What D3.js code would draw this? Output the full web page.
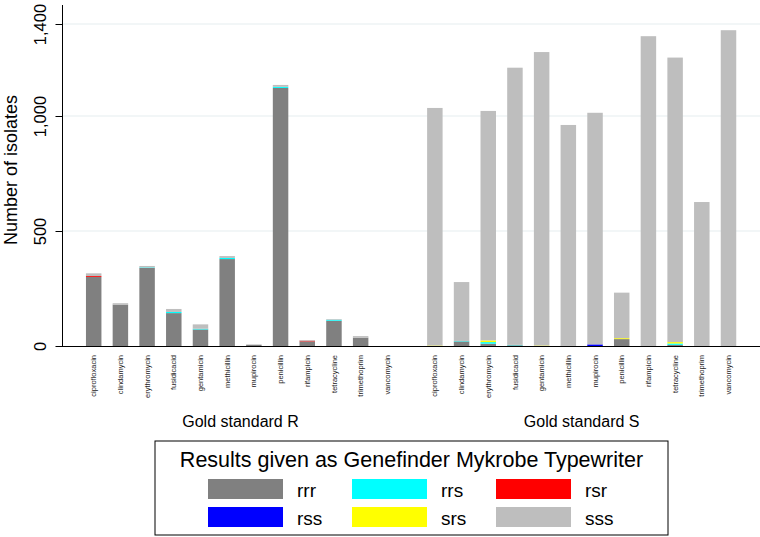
<!DOCTYPE html>
<html><head><meta charset="utf-8">
<script src="https://cdn.jsdelivr.net/npm/d3@7"></script>
<style>body{margin:0;background:#fff}svg{display:block;font-family:"Liberation Sans",Arial,Helvetica,sans-serif}</style>
</head><body><svg id="c" width="760" height="537"></svg>
<script>
const drugs = ["ciprofloxacin","clindamycin","erythromycin","fusidicacid","gentamicin","methicillin","mupirocin","penicillin","rifampicin","tetracycline","trimethoprim","vancomycin"];
const groups = ["Gold standard R","Gold standard S"];
const seriesNames = ["rrr","rrs","rsr","rss","srs","sss"];
const seriesColors = ["#808080","#00ffff","#ff0000","#0000ff","#ffff00","#bebebe"];
const yTicks = [0,500,1000,1400];
// Gold standard R
const rrrR = [300,180,340,143,72,378,5,1122,20,110,36,0];
const rrsR = [0,0,2,5,3,5,0,5,0,4,0,0];
const rsrR = [4,0,0,0,0,0,0,0,3,0,0,0];
const rssR = [0,0,0,0,0,0,0,0,0,0,0,0];
const srsR = [0,0,0,0,0,0,0,0,0,0,0,0];
const sssR = [12,6,6,13,19,8,2,8,3,3,7,0];
// Gold standard S
const rrrS = [0,20,10,3,0,2,0,30,0,5,0,0];
const rrsS = [0,2,7,2,0,0,0,0,0,6,0,0];
const rsrS = [0,0,0,0,0,0,0,0,0,0,0,0];
const rssS = [0,0,0,0,0,0,7,0,0,0,0,0];
const srsS = [2,0,7,0,2,0,0,4,0,6,0,0];
const sssS = [1033,256,998,1205,1276,959,1007,198,1347,1237,626,1373];

const seriesR = [rrrR,rrsR,rsrR,rssR,srsR,sssR];
const seriesS = [rrrS,rrsS,rsrS,rssS,srsS,sssS];

const rows = [];
[seriesR, seriesS].forEach((ser, g) => {
  drugs.forEach((d, i) => {
    const r = {group: g, idx: i, drug: d};
    seriesNames.forEach((s, k) => r[s] = ser[k][i]);
    rows.push(r);
  });
});

const svg = d3.select("#c");
const groupGap = 1.78;
const pos = r => r.idx + r.group * (drugs.length - 1 + groupGap);
const x = d3.scaleLinear().domain([0, 2*(drugs.length-1) + groupGap]).range([93.7, 728.5]);
const y = d3.scaleLinear().domain([0, 1400]).range([346, 24]);
const barW = (x(1) - x(0)) * 0.58;
const color = d3.scaleOrdinal().domain(seriesNames).range(seriesColors);

// gridlines
svg.append("g").selectAll("line").data(yTicks.filter(t => t > 0)).join("line")
  .attr("x1", 62.5).attr("x2", 760).attr("y1", d => y(d)).attr("y2", d => y(d))
  .attr("stroke", "#e6eeef").attr("stroke-width", 1.2);

// bars
const stack = d3.stack().keys(seriesNames);
const stacked = stack(rows);
svg.append("g").selectAll("g").data(stacked).join("g")
  .attr("fill", d => color(d.key))
  .selectAll("rect").data(d => d.filter(p => p[1] > p[0])).join("rect")
  .attr("x", p => x(pos(p.data)) - barW/2)
  .attr("width", barW)
  .attr("y", p => y(p[1]))
  .attr("height", p => y(p[0]) - y(p[1]));

// y axis
const yAxis = d3.axisLeft(y).tickValues(yTicks).tickSize(7).tickFormat(d3.format(","));
const ga = svg.append("g").attr("transform", "translate(62.5,0)").call(yAxis);
ga.select(".domain").attr("d", "M0,5V346").attr("stroke", "#000");
ga.selectAll(".tick line").attr("stroke", "#000");
ga.selectAll(".tick text").attr("font-size", 16.5).attr("fill", "#000")
  .attr("text-anchor", "middle")
  .attr("transform", "translate(-17,0) rotate(-90)")
  .attr("x", 0).attr("dy", 0).attr("y", 0);

// x axis line
svg.append("line").attr("x1", 62).attr("x2", 760).attr("y1", 346.5).attr("y2", 346.5)
  .attr("stroke", "#000").attr("stroke-width", 1.2);

// category labels
svg.append("g").selectAll("text").data(rows).join("text")
  .attr("transform", r => `translate(${x(pos(r)) + 2.6},355) rotate(-90)`)
  .attr("text-anchor", "end").attr("font-size", 7.5).attr("fill", "#222")
  .text(r => r.drug);

// group labels
svg.append("g").selectAll("text").data(groups).join("text")
  .attr("x", (g, gi) => (x(pos({idx:0, group:gi})) + x(pos({idx:drugs.length-1, group:gi})))/2)
  .attr("y", 427).attr("text-anchor", "middle").attr("font-size", 16).attr("fill", "#000")
  .text(g => g);

// y title
svg.append("text").attr("transform", "translate(17,170) rotate(-90)")
  .attr("text-anchor", "middle").attr("font-size", 18).attr("fill", "#000")
  .text("Number of isolates");

// legend
const lg = svg.append("g");
lg.append("rect").attr("x", 155).attr("y", 441).attr("width", 513).attr("height", 94)
  .attr("fill", "#fff").attr("stroke", "#000").attr("stroke-width", 1);
lg.append("text").attr("x", 411.5).attr("y", 466.5).attr("text-anchor", "middle")
  .attr("font-size", 21.5).attr("fill", "#000")
  .text("Results given as Genefinder Mykrobe Typewriter");
const items = lg.selectAll("g.item").data(seriesNames).join("g").attr("class", "item")
  .attr("transform", (s, i) => `translate(${208 + (i % 3) * 144},${479 + Math.floor(i / 3) * 28})`);
items.append("rect").attr("width", 75).attr("height", 20).attr("fill", s => color(s));
items.append("text").attr("x", 89).attr("y", 17.5).attr("font-size", 19).attr("fill", "#000").text(s => s);
</script></body></html>
